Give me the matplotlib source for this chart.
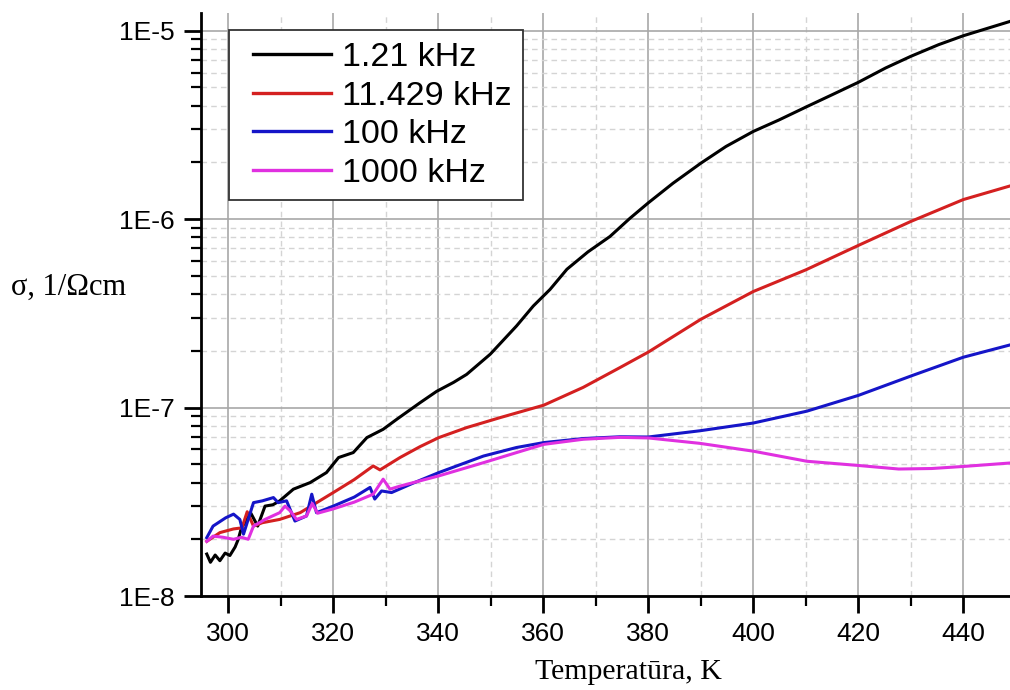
import numpy as np
import matplotlib.pyplot as plt
from matplotlib.lines import Line2D
from matplotlib.legend_handler import HandlerLine2D
from matplotlib.ticker import FixedLocator, FuncFormatter, LogLocator, NullFormatter, MultipleLocator

# temperature (K) and conductivity (1/Ohm cm) for each frequency
T_1k = [295.9, 296.6, 297.5, 298.4, 299.4, 300.3, 301.3, 301.9, 302.5, 304.3, 305.6, 307.0,
        308.5, 309.8, 312.4, 315.6, 318.7, 321.0, 323.8, 326.4, 329.5, 332.1, 336.5, 339.7,
        342.9, 345.4, 349.9, 354.9, 358.1, 361.3, 364.5, 368.5, 372.7, 376.5, 380.0, 384.7,
        390.0, 394.8, 400.0, 404.9, 410.0, 415.0, 420.0, 425.2, 430.0, 435.3, 440.0, 448.9]
s_1k = [1.67e-8, 1.51e-8, 1.65e-8, 1.54e-8, 1.69e-8, 1.64e-8, 1.82e-8, 2.0e-8, 2.3e-8, 2.75e-8,
        2.35e-8, 3.0e-8, 3.05e-8, 3.2e-8, 3.69e-8, 4.0e-8, 4.52e-8, 5.43e-8, 5.77e-8, 6.93e-8,
        7.67e-8, 8.67e-8, 1.06e-7, 1.22e-7, 1.36e-7, 1.50e-7, 1.92e-7, 2.71e-7, 3.46e-7, 4.24e-7,
        5.42e-7, 6.7e-7, 8.09e-7, 1.01e-6, 1.22e-6, 1.55e-6, 1.98e-6, 2.43e-6, 2.92e-6, 3.36e-6,
        3.93e-6, 4.57e-6, 5.32e-6, 6.34e-6, 7.31e-6, 8.43e-6, 9.4e-6, 1.12e-5]

T_11k = [295.9, 298.4, 301.0, 302.6, 303.6, 304.8, 306.5, 309.8, 313.7, 320.0, 324.0, 327.6,
         328.9, 332.7, 336.5, 340.1, 345.4, 351.8, 360.1, 367.6, 374.6, 380.0, 390.0, 400.0,
         410.0, 420.0, 430.0, 440.0, 448.9]
s_11k = [1.95e-8, 2.17e-8, 2.27e-8, 2.3e-8, 2.8e-8, 2.35e-8, 2.45e-8, 2.55e-8, 2.77e-8, 3.54e-8,
         4.15e-8, 4.9e-8, 4.67e-8, 5.43e-8, 6.2e-8, 6.93e-8, 7.83e-8, 8.85e-8, 1.03e-7, 1.28e-7,
         1.63e-7, 1.97e-7, 2.94e-7, 4.13e-7, 5.38e-7, 7.25e-7, 9.72e-7, 1.27e-6, 1.50e-6]

T_100k = [295.9, 297.1, 299.5, 301.0, 302.2, 302.9, 304.8, 306.5, 308.6, 309.5, 311.1, 312.7,
          314.9, 315.9, 316.8, 320.0, 324.0, 327.0, 327.9, 329.2, 331.1, 335.0, 340.1, 348.6,
          354.9, 360.1, 367.6, 374.6, 380.0, 389.8, 400.0, 410.2, 420.0, 430.3, 440.0, 448.9]
s_100k = [2.04e-8, 2.35e-8, 2.6e-8, 2.72e-8, 2.55e-8, 2.13e-8, 3.13e-8, 3.2e-8, 3.33e-8, 3.13e-8,
          3.2e-8, 2.5e-8, 2.66e-8, 3.47e-8, 2.77e-8, 3.0e-8, 3.35e-8, 3.77e-8, 3.27e-8, 3.61e-8,
          3.54e-8, 3.95e-8, 4.52e-8, 5.53e-8, 6.14e-8, 6.52e-8, 6.85e-8, 7.0e-8, 6.98e-8, 7.53e-8,
          8.28e-8, 9.57e-8, 1.16e-7, 1.48e-7, 1.85e-7, 2.15e-7]

T_1000k = [295.9, 297.1, 299.0, 301.0, 302.5, 303.8, 304.8, 307.0, 309.8, 310.8, 311.8, 313.0,
           314.9, 316.0, 317.0, 320.0, 324.0, 327.6, 329.5, 330.8, 332.7, 336.0, 340.1, 348.6,
           354.9, 360.1, 367.6, 374.6, 380.0, 389.8, 400.0, 410.2, 420.0, 427.7, 434.0, 440.0,
           448.9]
s_1000k = [1.95e-8, 2.08e-8, 2.05e-8, 2.0e-8, 2.05e-8, 2.0e-8, 2.35e-8, 2.55e-8, 2.77e-8, 3.0e-8,
           2.83e-8, 2.55e-8, 2.66e-8, 3.1e-8, 2.75e-8, 2.9e-8, 3.15e-8, 3.47e-8, 4.17e-8, 3.69e-8,
           3.83e-8, 4.05e-8, 4.34e-8, 5.1e-8, 5.77e-8, 6.38e-8, 6.79e-8, 6.95e-8, 6.9e-8, 6.46e-8,
           5.87e-8, 5.19e-8, 4.93e-8, 4.72e-8, 4.75e-8, 4.87e-8, 5.08e-8]

labels = ["1.21 kHz", "11.429 kHz", "100 kHz", "1000 kHz"]
colors = ["#000000", "#d42020", "#1515c8", "#e030e0"]

plt.rcParams['font.family'] = ['Liberation Sans', 'DejaVu Sans']
serif = ['Liberation Serif', 'DejaVu Serif']

fig = plt.figure(figsize=(10.1, 6.9), dpi=100)
ax = fig.add_axes([0.199, 0.1362, 0.801, 0.8454])

series = [(T_1k, s_1k), (T_11k, s_11k), (T_100k, s_100k), (T_1000k, s_1000k)]
for (t, s), lab, c in zip(series, labels, colors):
    ax.plot(t, s, color=c, lw=2.2, label=lab)

ax.set_yscale('log')
ax.set_xlim(294.8, 448.9)
ax.set_ylim(1e-8, 1.246e-5)

ax.xaxis.set_major_locator(MultipleLocator(20))
ax.xaxis.set_minor_locator(MultipleLocator(10))
ax.yaxis.set_major_locator(FixedLocator([1e-8, 1e-7, 1e-6, 1e-5]))
ax.yaxis.set_minor_locator(LogLocator(base=10, subs=np.arange(2, 10)))
ax.yaxis.set_minor_formatter(NullFormatter())
ax.yaxis.set_major_formatter(FuncFormatter(lambda v, p: "1E%d" % round(np.log10(v))))

ax.grid(which='major', color='#a8a8a8', lw=1.2, ls='-')
ax.grid(which='minor', color='#d4d4d4', lw=1.0, ls=(0, (4, 3)))
ax.set_axisbelow(True)

for side in ['top', 'right']:
    ax.spines[side].set_visible(False)
for side in ['left', 'bottom']:
    ax.spines[side].set_linewidth(2)

ax.tick_params(which='major', direction='out', length=12, width=2, labelsize=19, pad=7)
ax.tick_params(which='minor', direction='out', length=7, width=1.6)

leg = ax.legend(loc='upper left', bbox_to_anchor=(0.035, 0.970), borderaxespad=0,
                fontsize=24.5, frameon=True, fancybox=False, framealpha=1,
                handlelength=2.65, handletextpad=0.3, labelspacing=0.22, borderpad=0.35,
                handler_map={Line2D: HandlerLine2D(xpad=0.35)})
leg.get_frame().set_edgecolor('#333333')
leg.get_frame().set_linewidth(1.3)
for line in leg.get_lines():
    line.set_linewidth(2.4)

fig.text(11 / 1010, 1 - 287 / 690, "σ, 1/Ωcm", family=serif, fontsize=22,
         ha='left', va='center')
fig.text(628 / 1010, 1 - 672 / 690, "Temperatūra, K", family=serif, fontsize=21.5,
         ha='center', va='center')

fig.savefig("out.png", dpi=100)
